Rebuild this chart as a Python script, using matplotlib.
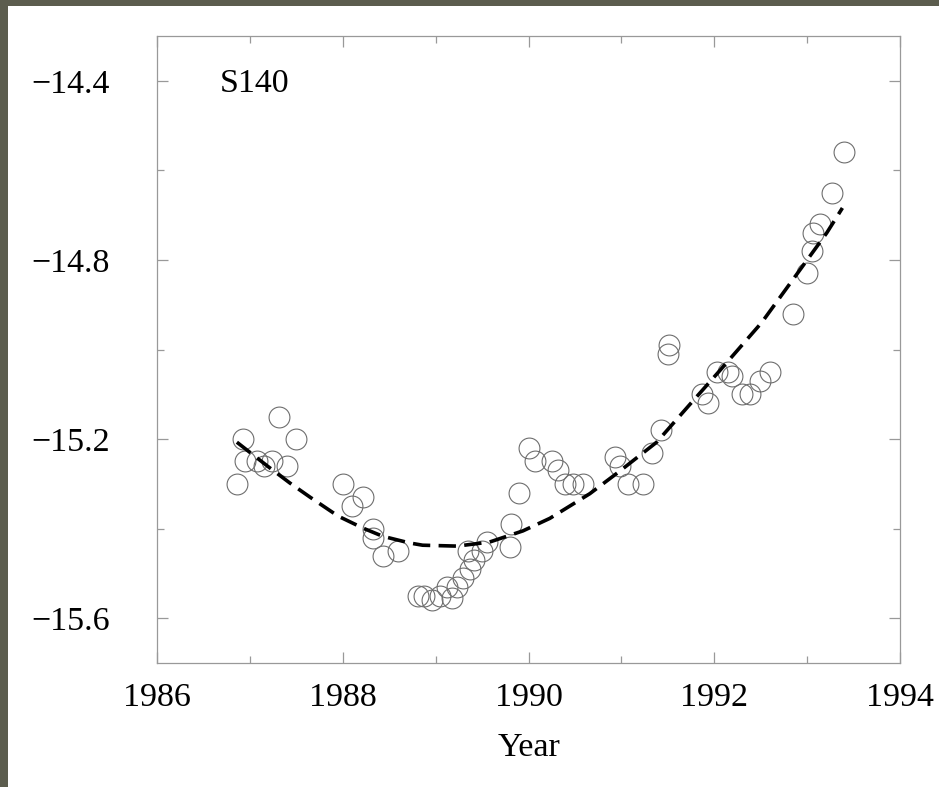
import matplotlib
matplotlib.use("Agg")
import matplotlib.pyplot as plt
from matplotlib.patches import Rectangle
from matplotlib.ticker import MultipleLocator, FuncFormatter

plt.rcParams['font.family'] = ['Liberation Serif', 'DejaVu Serif']
plt.rcParams['lines.scale_dashes'] = False

# Observed points (year, value)
obs_year = [1986.86, 1986.93, 1986.95, 1987.08, 1987.15, 1987.24, 1987.31, 1987.40, 1987.50,
            1988.00, 1988.10, 1988.22, 1988.33, 1988.33, 1988.43, 1988.59,
            1988.81, 1988.87, 1988.96, 1989.05, 1989.12, 1989.18, 1989.23, 1989.29, 1989.37,
            1989.35, 1989.41, 1989.50, 1989.55, 1989.80, 1989.81, 1989.90,
            1990.00, 1990.07, 1990.25, 1990.32, 1990.39, 1990.48, 1990.59,
            1990.93, 1990.99, 1991.07, 1991.23, 1991.33, 1991.43, 1991.50, 1991.51,
            1991.87, 1991.93, 1992.03, 1992.15, 1992.19, 1992.30, 1992.38, 1992.49, 1992.60,
            1992.85, 1993.00, 1993.05, 1993.06, 1993.14, 1993.27, 1993.40]
obs_value = [-15.30, -15.20, -15.25, -15.25, -15.26, -15.25, -15.15, -15.26, -15.20,
             -15.30, -15.35, -15.33, -15.40, -15.42, -15.46, -15.45,
             -15.55, -15.55, -15.56, -15.55, -15.53, -15.555, -15.53, -15.51, -15.49,
             -15.45, -15.47, -15.45, -15.43, -15.44, -15.39, -15.32,
             -15.22, -15.25, -15.25, -15.27, -15.30, -15.30, -15.30,
             -15.24, -15.26, -15.30, -15.30, -15.23, -15.18, -15.01, -14.99,
             -15.10, -15.12, -15.05, -15.05, -15.06, -15.10, -15.10, -15.07, -15.05,
             -14.92, -14.83, -14.78, -14.74, -14.72, -14.65, -14.56]

# Fitted trend curve
fit_year = [1986.86, 1987.20, 1987.43, 1987.65, 1987.95, 1988.22, 1988.43, 1988.72, 1988.86,
            1989.23, 1989.58, 1989.94, 1990.23, 1990.66, 1990.98, 1991.38, 1991.74,
            1992.06, 1992.51, 1992.92, 1993.21, 1993.38]
fit_value = [-15.207, -15.262, -15.298, -15.330, -15.372, -15.399, -15.417, -15.432, -15.437,
             -15.439, -15.430, -15.405, -15.377, -15.322, -15.272, -15.207, -15.122,
             -15.047, -14.940, -14.823, -14.740, -14.684]

x_ticks = [1986, 1988, 1990, 1992, 1994]
y_ticks = [-15.6, -15.2, -14.8, -14.4]
label_text = "S140"
xlabel_text = "Year"

fig = plt.figure(figsize=(9.39, 7.87), dpi=100)
fig.patch.set_facecolor('#5c5d4e')
fig.patches.append(Rectangle((8/939, 0), 1, 1 - 6/787, transform=fig.transFigure,
                             facecolor='white', edgecolor='none', zorder=-10))

ax = fig.add_axes([157/939, 1 - 663/787, (900 - 157)/939, (663 - 36)/787])
ax.set_facecolor('white')

ax.plot(fit_year, fit_value, color='black', linewidth=2.6, dashes=(12.5, 6),
        solid_capstyle='butt', dash_capstyle='butt', zorder=3)
ax.plot(obs_year, obs_value, linestyle='none', marker='o', markersize=15,
        markerfacecolor='none', markeredgecolor='#6e6e6e', markeredgewidth=0.8, zorder=2)

ax.set_xlim(1986, 1994)
ax.set_ylim(-15.7, -14.3)
ax.set_xticks(x_ticks)
ax.set_yticks(y_ticks)
ax.xaxis.set_minor_locator(MultipleLocator(1))
ax.yaxis.set_minor_locator(MultipleLocator(0.2))
ax.yaxis.set_major_formatter(FuncFormatter(lambda v, p: f"{v:.1f}".replace('-', '\u2212')))

for s in ax.spines.values():
    s.set_color('#999999')
    s.set_linewidth(0.9)

ax.tick_params(which='both', direction='in', top=True, right=True, color='#999999', width=0.9)
ax.tick_params(which='major', length=8, labelsize=24.5)
ax.tick_params(which='minor', length=5)
ax.tick_params(axis='y', which='major', pad=34)
ax.tick_params(axis='x', which='major', pad=14)

ax.set_xlabel(xlabel_text, fontsize=24.5, labelpad=14)
ax.text(1986.68, -14.425, label_text, fontsize=24.5, va='baseline', ha='left')

fig.savefig('out.png', dpi=100, facecolor=fig.get_facecolor())
